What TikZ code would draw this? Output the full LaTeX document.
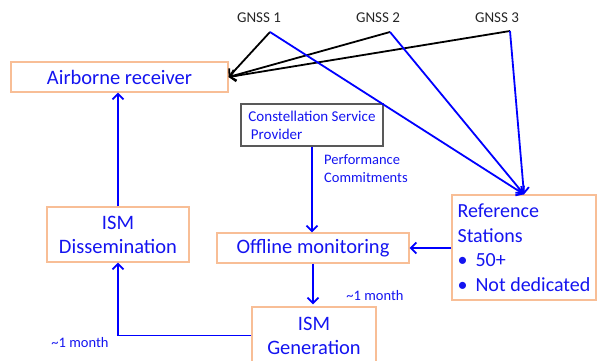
\documentclass[tikz,border=0pt]{standalone}
\usepackage{fontspec}
\setmainfont{Carlito}
\usetikzlibrary{arrows.meta}
\definecolor{boxorange}{RGB}{248,190,150}
\definecolor{textblue}{RGB}{20,20,240}

\begin{document}
\begin{tikzpicture}[x=1pt,y=-1pt]
\tikzstyle{box}=[draw=boxorange,line width=1.3pt,text=textblue,inner sep=0pt,align=center,font=\fontsize{20.5}{24}\selectfont]
\tikzstyle{cspbox}=[draw=black!65,line width=1.2pt,text=textblue,inner sep=0pt,align=left,font=\fontsize{15}{18}\selectfont]
\tikzstyle{gnss}=[text=black!85,font=\fontsize{15}{18}\selectfont]
\tikzstyle{lbl}=[text=textblue,align=left,inner sep=0pt,font=\fontsize{14.5}{18}\selectfont]
\tikzstyle{flow}=[draw=blue,line width=1.8pt,-{Straight Barb[length=5.5pt,width=11pt]}]
\tikzstyle{signal}=[draw=black,line width=1.8pt,-{Straight Barb[length=5.5pt,width=11pt]}]
\useasboundingbox (0,0) rectangle (597,360);
\clip (0,0) rectangle (597,360);
\node[box,minimum width=217pt,minimum height=30pt] (air) at (119.5,77) {Airborne receiver};
\node[cspbox,minimum width=142pt,minimum height=42pt] (csp) at (312,125) {Constellation Service\\ \,Provider};
\node[box,minimum width=192pt,minimum height=30pt] (off) at (313,248) {Offline monitoring};
\node[box,align=left,minimum width=144pt,minimum height=105pt,font=\fontsize{20}{24.5}\selectfont] (ref) at (524,247.5) {Reference\\Stations\\\makebox[18pt][l]{\textbullet}50+\\\makebox[18pt][l]{\textbullet}Not dedicated};
\node[box,minimum width=142pt,minimum height=55pt] (ismd) at (118,234.5) {ISM\\Dissemination};
\node[box,minimum width=124pt,minimum height=57pt] (ismg) at (314,335.5) {ISM\\Generation};
\node[gnss] (l1) at (259,18) {GNSS 1};
\node[gnss] (l2) at (378,18) {GNSS 2};
\node[gnss] (l3) at (497,18) {GNSS 3};
\coordinate (g1) at (270,32);
\coordinate (g2) at (390,32);
\coordinate (g3) at (510,31);
\draw[signal] (g1) -- (air.east);
\draw[signal] (g2) -- (air.east);
\draw[signal] (g3) -- (air.east);
\draw[flow] (g1) -- (ref.north);
\draw[flow] (g2) -- (ref.north);
\draw[flow] (g3) -- (ref.north);
\draw[flow] (csp.south) -- (csp.south |- off.north);
\draw[flow] (ref.west |- off.east) -- (off.east);
\draw[flow] (off.south) -- ([yshift=2pt]off.south |- ismg.north);
\draw[flow] (ismg.west) -| (ismd.south);
\draw[flow] (ismd.north) -- (ismd.north |- air.south);
\node[lbl,anchor=west] (perf) at (324,169) {Performance\\Commitments};
\node[lbl] (m1) at (375,296) {\textasciitilde1 month};
\node[lbl] (m2) at (80,343) {\textasciitilde1 month};
\end{tikzpicture}
\end{document}
